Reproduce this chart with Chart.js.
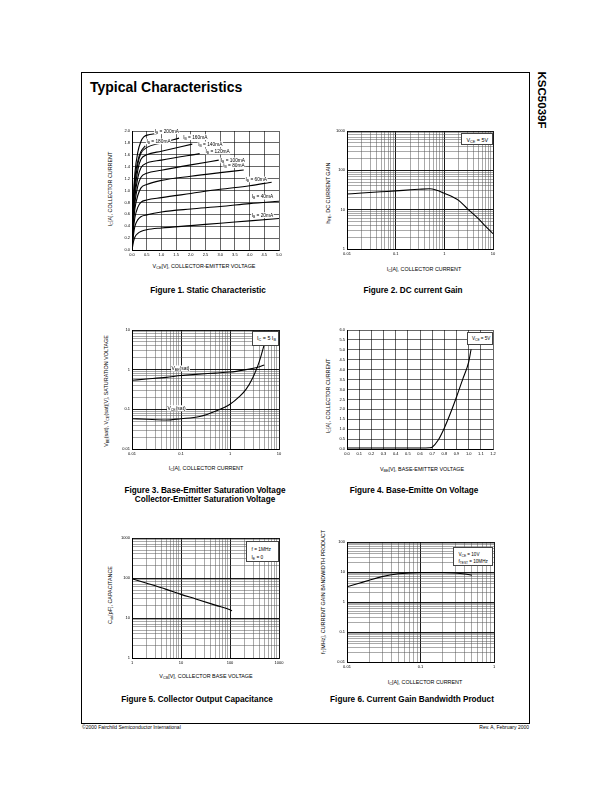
<!DOCTYPE html>
<html>
<head>
<meta charset="utf-8">
<script src="https://cdn.jsdelivr.net/npm/chart.js@4.4.1/dist/chart.umd.min.js"></script>
<style>
html,body{margin:0;padding:0;background:#fff;}
body{width:612px;height:792px;position:relative;overflow:hidden;font-family:"Liberation Sans",Arial,sans-serif;color:#000;}
.t{position:absolute;white-space:nowrap;line-height:1;}
.c{transform:translate(-50%,-50%);}
.v{transform:translate(-50%,-50%) rotate(-90deg);}
.cap{font-weight:bold;font-size:8.2px;}
.ax{font-size:5.4px;}
sub{font-size:0.7em;vertical-align:-0.3em;line-height:0;}
canvas{position:absolute;}
.box{position:absolute;background:#fff;border:0.6px solid #444;box-sizing:border-box;white-space:nowrap;line-height:1;}
</style>
</head>
<body>

<div style="position:absolute;left:81px;top:72px;width:447px;height:650px;border:1px solid #000;"></div>
<div class="t" style="left:90px;top:80px;font-size:14px;font-weight:bold;">Typical Characteristics</div>
<div class="t v" style="left:541px;top:100px;font-size:11.5px;font-weight:bold;transform:translate(-50%,-50%) rotate(90deg);">KSC5039F</div>

<!-- axis titles -->
<div class="t c ax" style="left:204px;top:267px;">V<sub>CE</sub>[V], COLLECTOR-EMITTER VOLTAGE</div>
<div class="t v ax" style="left:111px;top:189px;">I<sub>C</sub>[A], COLLECTOR CURRENT</div>
<div class="t c ax" style="left:424px;top:270px;">I<sub>C</sub>[A], COLLECTOR CURRENT</div>
<div class="t v ax" style="left:329px;top:193px;">h<sub>FE</sub>, DC CURRENT GAIN</div>
<div class="t c ax" style="left:206px;top:469px;">I<sub>C</sub>[A], COLLECTOR CURRENT</div>
<div class="t v ax" style="left:107px;top:391px;">V<sub>BE</sub>(sat), V<sub>CE</sub>(sat)[V], SATURATION VOLTAGE</div>
<div class="t c ax" style="left:422px;top:470px;">V<sub>BE</sub>[V], BASE-EMITTER VOLTAGE</div>
<div class="t v ax" style="left:329px;top:396px;">I<sub>C</sub>[A], COLLECTOR CURRENT</div>
<div class="t c ax" style="left:206px;top:677px;">V<sub>CB</sub>[V], COLLECTOR BASE VOLTAGE</div>
<div class="t v ax" style="left:111px;top:595px;">C<sub>ob</sub>[pF], CAPACITANCE</div>
<div class="t c ax" style="left:425px;top:683px;">I<sub>C</sub>[A], COLLECTOR CURRENT</div>
<div class="t v ax" style="left:324px;top:592px;">f<sub>T</sub>[MHz], CURRENT GAIN BANDWIDTH PRODUCT</div>

<!-- captions -->
<div class="t c cap" style="left:208px;top:291px;">Figure 1. Static Characteristic</div>
<div class="t c cap" style="left:413px;top:291px;">Figure 2. DC current Gain</div>
<div class="t c cap" style="left:205px;top:491px;">Figure 3. Base-Emitter Saturation Voltage</div>
<div class="t c cap" style="left:205px;top:500px;">Collector-Emitter Saturation Voltage</div>
<div class="t c cap" style="left:414px;top:491px;">Figure 4. Base-Emitte On Voltage</div>
<div class="t c cap" style="left:197px;top:700px;">Figure 5. Collector Output Capacitance</div>
<div class="t c cap" style="left:412px;top:700px;">Figure 6. Current Gain Bandwidth Product</div>

<!-- footer -->
<div class="t" style="left:82px;top:725px;font-size:5px;">©2000 Fairchild Semiconductor International</div>
<div class="t" style="right:83px;top:725px;font-size:5px;">Rev. A, February 2000</div>

<div id="charts"></div>

<div class="box" style="left:461px;top:133px;width:32px;height:12px;font-size:5.4px;padding:3.5px 0 0 4.5px;">V<sub>CE</sub> = 5V</div>
<div class="box" style="left:252px;top:331px;width:27px;height:15px;font-size:5.4px;padding:4px 0 0 4px;">I<sub>C</sub> = 5 I<sub>B</sub></div>
<div class="box" style="left:467px;top:332px;width:26px;height:13px;font-size:4.6px;padding:4px 0 0 4px;">V<sub>CE</sub> = 5V</div>
<div class="box" style="left:246px;top:541px;width:33px;height:21px;font-size:4.8px;padding:3.5px 0 0 4.5px;line-height:8px;">f = 1MHz<br>I<sub>E</sub> = 0</div>
<div class="box" style="left:453px;top:547px;width:40px;height:19px;font-size:4.6px;padding:4px 0 0 4.5px;line-height:6.8px;">V<sub>CE</sub> = 10V<br>f<sub>TEST</sub> = 10MHz</div>

<script>
// ── DATA ───────────────────────────────────────────────
// Fig 1: static characteristic, [VCE (V), IC (A)] per base current
const fig1XTicks = [0.0, 0.5, 1.0, 1.5, 2.0, 2.5, 3.0, 3.5, 4.0, 4.5, 5.0];
const fig1YTicks = [0.0, 0.2, 0.4, 0.6, 0.8, 1.0, 1.2, 1.4, 1.6, 1.8, 2.0];
const ib20  = [[0,0],[0.05,0.14],[0.1,0.22],[0.2,0.28],[0.3,0.31],[0.5,0.34],[1,0.37],[2,0.41],[3,0.45],[4,0.49],[5,0.53]];
const ib40  = [[0,0],[0.05,0.25],[0.1,0.40],[0.2,0.51],[0.3,0.56],[0.5,0.59],[1,0.64],[2,0.69],[3,0.73],[4,0.78],[5,0.82]];
const ib60  = [[0,0],[0.05,0.35],[0.1,0.55],[0.2,0.72],[0.3,0.80],[0.5,0.84],[1,0.88],[2,0.95],[3,1.02],[4,1.08],[4.75,1.14]];
const ib80  = [[0,0],[0.05,0.45],[0.1,0.70],[0.2,0.92],[0.3,1.04],[0.5,1.10],[1,1.17],[2,1.24],[3,1.30],[3.8,1.345]];
const ib100 = [[0,0],[0.05,0.50],[0.1,0.80],[0.2,1.08],[0.3,1.22],[0.5,1.29],[1,1.34],[2,1.43],[2.95,1.51]];
const ib120 = [[0,0],[0.05,0.60],[0.1,0.90],[0.2,1.22],[0.3,1.38],[0.5,1.46],[1,1.51],[2.3,1.62]];
const ib140 = [[0,0],[0.05,0.70],[0.1,1.00],[0.2,1.35],[0.3,1.52],[0.5,1.60],[1,1.66],[2.05,1.78]];
const ib160 = [[0,0],[0.05,0.75],[0.1,1.10],[0.2,1.45],[0.3,1.62],[0.5,1.72],[1,1.80],[1.6,1.88]];
const ib180 = [[0,0],[0.05,0.80],[0.1,1.20],[0.2,1.50],[0.3,1.65],[0.45,1.75]];
const ib200 = [[0,0],[0.05,0.90],[0.1,1.30],[0.2,1.65],[0.3,1.82],[0.4,1.90],[0.6,1.94],[0.85,1.96]];
const fig1Curves = [ib20, ib40, ib60, ib80, ib100, ib120, ib140, ib160, ib180, ib200];
const fig1Labels = ["I_{B} = 20mA","I_{B} = 40mA","I_{B} = 60mA","I_{B} = 80mA","I_{B} = 100mA",
                    "I_{B} = 120mA","I_{B} = 140mA","I_{B} = 160mA","I_{B} = 180mA","I_{B} = 200mA"];
const fig1LabelAt = [[4.07,0.59],[4.07,0.90],[3.86,1.19],[3.10,1.43],[3.02,1.51],
                     [2.50,1.66],[2.25,1.78],[1.74,1.90],[0.49,1.83],[0.77,2.00]];

// Fig 2: DC current gain vs IC
const fig2XDecades = [0.01, 0.1, 1, 10];
const fig2YDecades = [1, 10, 100, 1000];
const fig2Ic  = [0.01, 0.02, 0.05, 0.1, 0.2, 0.3, 0.5, 0.7, 1, 1.5, 2, 3, 5, 7, 10];
const fig2Hfe = [25, 26.5, 28.5, 30, 32, 33, 34, 31, 26, 21, 17, 10.5, 5.9, 3.8, 2.45];

// Fig 3: saturation voltages vs IC
const fig3XDecades = [0.01, 0.1, 1, 10];
const fig3YDecades = [0.01, 0.1, 1, 10];
const fig3IcBE  = [0.01, 0.02, 0.05, 0.1, 0.2, 0.5, 1, 2, 3, 4, 5];
const fig3VbeSat = [0.54, 0.58, 0.64, 0.71, 0.76, 0.82, 0.87, 0.99, 1.09, 1.19, 1.31];
const fig3IcCE  = [0.01, 0.02, 0.05, 0.1, 0.24, 0.52, 1, 1.55, 2.12, 2.9, 3.67, 4.29, 5];
const fig3VceSat = [0.058, 0.056, 0.054, 0.058, 0.066, 0.091, 0.134, 0.208, 0.318, 0.62, 1.23, 2.2, 4.3];
const fig3Labels = ["V_{BE}(sat)", "V_{CE}(sat)"];
const fig3LabelAt = [[0.064, 1.09], [0.053, 0.108]];

// Fig 4: base-emitter on voltage
const fig4XTicks = [0.0,0.1,0.2,0.3,0.4,0.5,0.6,0.7,0.8,0.9,1.0,1.1,1.2];
const fig4YTicks = [0.0,0.5,1.0,1.5,2.0,2.5,3.0,3.5,4.0,4.5,5.0,5.5,6.0];
const fig4Vbe = [0, 0.3, 0.6, 0.68, 0.7, 0.75, 0.8, 0.85, 0.9, 0.95, 1.0, 1.02];
const fig4Ic  = [0.05, 0.05, 0.05, 0.06, 0.09, 0.45, 1.06, 1.8, 2.62, 3.5, 4.38, 5.03];

// Fig 5: collector output capacitance vs VCB
const fig5XDecades = [1, 10, 100, 1000];
const fig5YDecades = [1, 10, 100, 1000];
const fig5Vcb = [1, 2, 5, 10, 20, 50, 100, 110];
const fig5Cob = [96, 74, 52, 39, 30, 21, 16, 15.2];

// Fig 6: current gain bandwidth product vs IC
const fig6XDecades = [0.01, 0.1, 1];
const fig6YDecades = [0.01, 0.1, 1, 10, 100];
const fig6Ic = [0.01, 0.015, 0.02, 0.03, 0.05, 0.07, 0.1, 0.2, 0.3, 0.4, 0.5];
const fig6Ft = [3.2, 4.3, 5.3, 7.0, 8.7, 9.3, 9.6, 9.6, 9.3, 8.6, 7.8];

// ── LAYOUT ─────────────────────────────────────────────
const FONT = '"Liberation Sans", Arial, sans-serif';
const YW = 22, XH = 11, PT = 5, PR = 8;

function isDecade(v) { const l = Math.log10(v); return Math.abs(l - Math.round(l)) < 1e-9; }
function logTicks(decades) {
  const out = [];
  decades.forEach((d, i) => {
    out.push(d);
    if (i < decades.length - 1) for (let k = 2; k <= 9; k++) out.push(+(d * k).toPrecision(6));
  });
  return out;
}

function linAxis(ticks) {
  return {
    type: 'linear', min: ticks[0], max: ticks[ticks.length - 1],
    afterBuildTicks: s => { s.ticks = ticks.map(v => ({ value: v })); },
    afterFit: s => { if (s.isHorizontal()) s.height = XH; else s.width = YW; },
    ticks: { autoSkip: false, maxRotation: 0, padding: 2, color: '#000',
             font: { family: FONT, size: 4 }, callback: v => v.toFixed(1) },
    grid: { drawTicks: false, color: '#000', lineWidth: 0.6 },
    border: { color: '#000', width: 1 }
  };
}

function logAxis(decades) {
  const all = logTicks(decades);
  return {
    type: 'logarithmic', min: decades[0], max: decades[decades.length - 1],
    afterBuildTicks: s => { s.ticks = all.map(v => ({ value: v })); },
    afterFit: s => { if (s.isHorizontal()) s.height = XH; else s.width = YW; },
    ticks: { autoSkip: false, maxRotation: 0, padding: 2, color: '#000',
             font: { family: FONT, size: 4 }, callback: v => isDecade(v) ? String(v) : '' },
    grid: { drawTicks: false,
            color: c => (c.tick && isDecade(c.tick.value)) ? '#000' : '#555',
            lineWidth: c => (c.tick && isDecade(c.tick.value)) ? 0.9 : 0.5 },
    border: { color: '#000', width: 1 }
  };
}

function drawRich(ctx, text, x, y, size) {
  const parts = text.split(/_\{([^}]*)\}/);
  ctx.save();
  let w = 0;
  const widths = parts.map((p, i) => {
    ctx.font = `${i % 2 ? size * 0.7 : size}px ${FONT}`;
    const m = ctx.measureText(p).width; w += m; return m;
  });
  ctx.fillStyle = '#fff';
  ctx.fillRect(x - 0.5, y - size * 0.55, w + 1, size * 1.2);
  ctx.fillStyle = '#000';
  ctx.textBaseline = 'alphabetic';
  let cx = x;
  const base = y + size * 0.36;
  parts.forEach((p, i) => {
    ctx.font = `${i % 2 ? size * 0.7 : size}px ${FONT}`;
    ctx.fillText(p, cx, base + (i % 2 ? size * 0.25 : 0));
    cx += widths[i];
  });
  ctx.restore();
}

function curveLabels(texts, anchors, size) {
  return {
    id: 'curveLabels',
    afterDatasetsDraw(chart) {
      const { ctx, scales: { x, y } } = chart;
      texts.forEach((t, i) => {
        drawRich(ctx, t, x.getPixelForValue(anchors[i][0]), y.getPixelForValue(anchors[i][1]), size);
      });
    }
  };
}

function line(xs, ys) {
  return { data: xs.map((x, i) => ({ x, y: ys[i] })), borderColor: '#000', borderWidth: 1.1,
           pointRadius: 0, fill: false, cubicInterpolationMode: 'monotone' };
}
function linePairs(pairs) {
  return line(pairs.map(p => p[0]), pairs.map(p => p[1]));
}

function makeChart(rect, datasets, xAxis, yAxis, extraPlugins) {
  const cv = document.createElement('canvas');
  const w = YW + rect.w + PR, h = PT + rect.h + XH;
  cv.width = w; cv.height = h;
  cv.style.left = (rect.l - YW) + 'px';
  cv.style.top = (rect.t - PT) + 'px';
  cv.style.width = w + 'px'; cv.style.height = h + 'px';
  document.getElementById('charts').appendChild(cv);
  return new Chart(cv.getContext('2d'), {
    type: 'line',
    data: { datasets },
    options: {
      responsive: false, animation: false, devicePixelRatio: 1,
      layout: { padding: { top: PT, right: PR, left: 0, bottom: 0 } },
      plugins: { legend: { display: false }, tooltip: { enabled: false } },
      scales: { x: xAxis, y: yAxis }
    },
    plugins: extraPlugins || []
  });
}

// ── CHARTS ─────────────────────────────────────────────
makeChart({ l: 132, t: 131, w: 147, h: 119 },
  fig1Curves.map(linePairs), linAxis(fig1XTicks), linAxis(fig1YTicks),
  [curveLabels(fig1Labels, fig1LabelAt, 4.8)]);

makeChart({ l: 347, t: 131, w: 146, h: 118 },
  [line(fig2Ic, fig2Hfe)], logAxis(fig2XDecades), logAxis(fig2YDecades));

makeChart({ l: 132, t: 330, w: 147, h: 119 },
  [line(fig3IcBE, fig3VbeSat), line(fig3IcCE, fig3VceSat)],
  logAxis(fig3XDecades), logAxis(fig3YDecades),
  [curveLabels(fig3Labels, fig3LabelAt, 5)]);

makeChart({ l: 347, t: 330, w: 146, h: 119 },
  [line(fig4Vbe, fig4Ic)], linAxis(fig4XTicks), linAxis(fig4YTicks));

makeChart({ l: 132, t: 538, w: 147, h: 120 },
  [line(fig5Vcb, fig5Cob)], logAxis(fig5XDecades), logAxis(fig5YDecades));

makeChart({ l: 347, t: 542, w: 147, h: 120 },
  [line(fig6Ic, fig6Ft)], logAxis(fig6XDecades), logAxis(fig6YDecades));
</script>
</body>
</html>
